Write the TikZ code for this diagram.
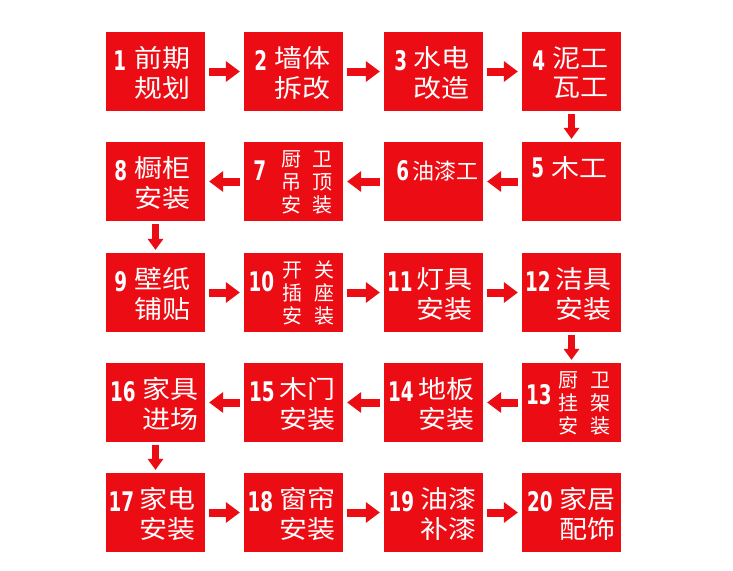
\documentclass[tikz,border=0pt]{standalone}
\usepackage{fontspec}
\newfontfamily\cjkf{Noto Sans CJK SC}
\newfontfamily\numf{DejaVu Sans}
\usetikzlibrary{arrows.meta,calc}
\definecolor{boxred}{RGB}{236,12,20}
\tikzset{
 stepbox/.style={fill=boxred, minimum width=99pt, minimum height=79pt, inner sep=0pt},
 numst/.style={text=white, inner sep=0pt, font=\numf\bfseries\fontsize{27}{27}\selectfont},
 cjkbig/.style={text=white, inner sep=0pt, font=\cjkf\fontsize{25}{30}\selectfont},
 cjkmid/.style={text=white, inner sep=0pt, font=\cjkf\fontsize{22}{26}\selectfont},
 cjksmall/.style={text=white, inner sep=0pt, align=center, font=\cjkf\fontsize{20}{23}\selectfont},
 harr/.style={draw=boxred, line width=8pt, -{Triangle[width=21pt,length=14pt,line width=0pt]}, shorten <=4pt, shorten >=4pt},
 varr/.style={draw=boxred, line width=7pt, -{Triangle[width=16pt,length=11pt,line width=0pt]}, shorten <=3pt, shorten >=3pt},
}
\newcommand\nsq[1]{\scalebox{0.68}[1]{#1}}
\newcommand\wsq[1]{\scalebox{1.12}[1]{#1}}
\newcommand\twobox[6]{%
 \node[numst] (#1n) at ($(#1.north west)+(#3,29)$) {\nsq{#2}};
 \node[cjkbig] (#1a) at ($(#1.north west)+(#4,26)$) {\wsq{#5}};
 \node[cjkbig] (#1b) at ($(#1.north west)+(#4,56)$) {\wsq{#6}};}
\newcommand\gridbox[8]{%
 \node[numst] (#1n) at ($(#1.north west)+(#3,#4)$) {\nsq{#2}};
 \node[cjksmall] (#1a) at ($(#1.north west)+(#5,40.5)$) {#7};
 \node[cjksmall] (#1b) at ($(#1.north west)+(#6,40.5)$) {#8};}
\begin{document}
\begin{tikzpicture}[x=1pt,y=-1pt]
\fill[white] (0,0) rectangle (733,570);
\useasboundingbox (0,0) rectangle (733,570);
% boxes
\node[stepbox] (b1) at (155.5,71.5) {};
\node[stepbox] (b2) at (293.5,71.5) {};
\node[stepbox] (b3) at (433.5,71.5) {};
\node[stepbox] (b4) at (571.5,71.5) {};
\node[stepbox] (b5) at (571.5,181.5) {};
\node[stepbox] (b6) at (433.5,181.5) {};
\node[stepbox] (b7) at (293.5,181.5) {};
\node[stepbox] (b8) at (155.5,181.5) {};
\node[stepbox] (b9) at (155.5,292.5) {};
\node[stepbox] (b10) at (293.5,292.5) {};
\node[stepbox] (b11) at (433.5,292.5) {};
\node[stepbox] (b12) at (571.5,292.5) {};
\node[stepbox] (b13) at (571.5,402.5) {};
\node[stepbox] (b14) at (433.5,402.5) {};
\node[stepbox] (b15) at (293.5,402.5) {};
\node[stepbox] (b16) at (155.5,402.5) {};
\node[stepbox] (b17) at (155.5,512.5) {};
\node[stepbox] (b18) at (293.5,512.5) {};
\node[stepbox] (b19) at (433.5,512.5) {};
\node[stepbox] (b20) at (571.5,512.5) {};
% texts
\twobox{b1}{1}{14}{56.5}{前期}{规划}
\twobox{b2}{2}{17}{58.5}{墙体}{拆改}
\twobox{b3}{3}{17}{57.5}{水电}{改造}
\twobox{b4}{4}{17}{59}{泥工}{瓦工}
\node[numst] (b5n) at ($(b5.north west)+(16,26)$) {\nsq{5}};
\node[cjkbig] (b5a) at ($(b5.north west)+(58,26)$) {\wsq{木工}};
\node[numst] (b6n) at ($(b6.north west)+(19,29)$) {\nsq{6}};
\node[cjkmid] (b6a) at ($(b6.north west)+(61.5,29)$) {油漆工};
\gridbox{b7}{7}{16}{29}{48}{79}{厨\\吊\\安}{卫\\顶\\装}
\twobox{b8}{8}{15}{56.5}{橱柜}{安装}
\twobox{b9}{9}{15}{56.5}{壁纸}{铺贴}
\gridbox{b10}{10}{17.5}{29}{48.5}{81}{开\\插\\安}{关\\座\\装}
\twobox{b11}{11}{16}{60.5}{灯具}{安装}
\twobox{b12}{12}{16}{61.5}{洁具}{安装}
\gridbox{b13}{13}{17}{32}{47}{79}{厨\\挂\\安}{卫\\架\\装}
\twobox{b14}{14}{17}{62.5}{地板}{安装}
\twobox{b15}{15}{18}{64}{木门}{安装}
\twobox{b16}{16}{17}{64.5}{家具}{进场}
\twobox{b17}{17}{15.5}{62}{家电}{安装}
\twobox{b18}{18}{16.5}{63.5}{窗帘}{安装}
\twobox{b19}{19}{17.5}{64.5}{油漆}{补漆}
\twobox{b20}{20}{18}{65.5}{家居}{配饰}
% arrows
\draw[harr] (b1) -- (b2);
\draw[harr] (b2) -- (b3);
\draw[harr] (b3) -- (b4);
\draw[varr] (b4) -- (b5);
\draw[harr] (b5) -- (b6);
\draw[harr] (b6) -- (b7);
\draw[harr] (b7) -- (b8);
\draw[varr] (b8) -- (b9);
\draw[harr] (b9) -- (b10);
\draw[harr] (b10) -- (b11);
\draw[harr] (b11) -- (b12);
\draw[varr] (b12) -- (b13);
\draw[harr] (b13) -- (b14);
\draw[harr] (b14) -- (b15);
\draw[harr] (b15) -- (b16);
\draw[varr] (b16) -- (b17);
\draw[harr] (b17) -- (b18);
\draw[harr] (b18) -- (b19);
\draw[harr] (b19) -- (b20);
\end{tikzpicture}
\end{document}
